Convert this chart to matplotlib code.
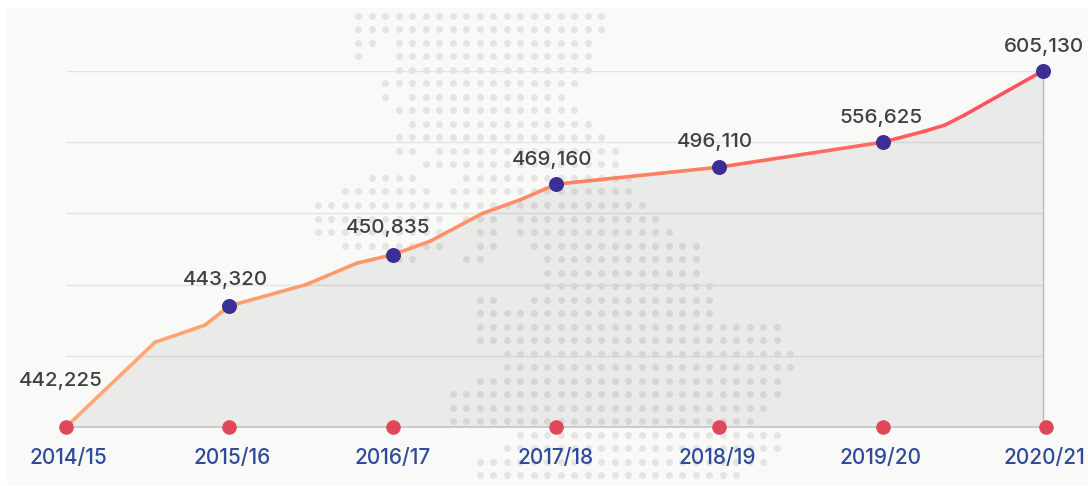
import matplotlib
matplotlib.use("Agg")
import matplotlib.pyplot as plt
import numpy as np
from matplotlib.collections import LineCollection
from matplotlib.colors import LinearSegmentedColormap
from matplotlib.patches import Rectangle
from matplotlib.transforms import ScaledTranslation

plt.rcParams['font.family'] = ['Inter', 'DejaVu Sans']

# Data ---------------------------------------------------------------
years = ["2014/15", "2015/16", "2016/17", "2017/18", "2018/19", "2019/20", "2020/21"]
value_labels = ["442,225", "443,320", "450,835", "469,160", "496,110", "556,625", "605,130"]
# drawn height of each annual point (gridline units, the chart has no numeric axis)
point_x = [0, 1, 2, 3, 4, 5, 5.98]
point_h = [0, 1.70, 2.42, 3.41, 3.65, 4.00, 5.00]
# path of the drawn line between years
line_x = [0, 0.545, 0.85, 1, 1.47, 1.78, 2, 2.23, 2.55, 2.78, 3, 4, 5, 5.25, 5.38, 5.5, 5.98]
line_h = [0, 1.19, 1.43, 1.70, 2.00, 2.30, 2.42, 2.61, 3.00, 3.19, 3.41, 3.65, 4.00, 4.15, 4.24, 4.38, 5.00]
grid_levels = [1, 2, 3, 4, 5]

# Dotted map backdrop: (row, [(first col, last col), ...])
map_rows = [
    (0, [(0, 18)]), (1, [(0, 18)]), (2, [(0, 1), (3, 17)]), (3, [(0, 0), (3, 17)]),
    (4, [(3, 17)]), (5, [(2, 16)]), (6, [(2, 2), (4, 15)]), (7, [(3, 16)]),
    (8, [(4, 17)]), (9, [(3, 18)]), (10, [(3, 4), (6, 19)]), (11, [(5, 19)]),
    (12, [(1, 4), (8, 20)]), (13, [(-1, 5), (7, 20)]), (14, [(-3, 21)]),
    (15, [(-3, 6), (8, 10), (12, 22)]), (16, [(-3, 6), (9, 10), (12, 23)]),
    (17, [(-1, 6), (9, 10), (13, 25)]), (18, [(3, 4), (8, 9), (14, 25)]),
    (19, [(14, 25)]), (20, [(14, 26)]), (21, [(9, 10), (13, 26)]), (22, [(9, 26)]),
    (23, [(9, 31)]), (24, [(9, 31)]), (25, [(11, 32)]), (26, [(11, 32)]),
    (27, [(9, 31)]), (28, [(7, 31)]), (29, [(7, 30)]), (30, [(7, 29)]),
    (31, [(12, 31)]), (32, [(11, 31)]), (33, [(9, 30)]), (34, [(9, 28)]),
]

# Figure -------------------------------------------------------------
W, H = 1088, 486
fig = plt.figure(figsize=(W / 100, H / 100), dpi=100, facecolor="white")

bg = fig.add_axes([0, 0, 1, 1], zorder=0)
bg.set_xlim(0, W)
bg.set_ylim(H, 0)
bg.axis("off")
bg.add_patch(Rectangle((7, 8), W - 7, 477, facecolor="#f9f9f7", edgecolor="none"))
cols, rows = [], []
for r, spans in map_rows:
    for a, b in spans:
        for c in range(a, b + 1):
            cols.append(c)
            rows.append(r)
bg.scatter(358.3 + 13.5 * np.array(cols), 16 + 13.5 * np.array(rows),
           s=25, color="#e4e4e1", linewidths=0)

ax = fig.add_axes([66 / W, (H - 427) / H, 980 / W, 356 / H], zorder=1)
ax.patch.set_alpha(0)
ax.set_xlim(0, 6)
ax.set_ylim(0, 5)
for s in ax.spines.values():
    s.set_visible(False)
ax.set_yticks([])

for g in grid_levels:
    ax.plot([0, 5.98], [g, g], color="#e4e4e2", lw=1, zorder=1, solid_capstyle="butt")
ax.fill_between(line_x, 0, line_h, color="black", alpha=0.06, lw=0, zorder=2)
ax.plot([5.98, 5.98], [0, 5], color="#b9b9b9", lw=1, zorder=3)
ax.plot([0, 6], [0, 0], color="#c4c4c4", lw=1.2, zorder=3, clip_on=False)

cmap = LinearSegmentedColormap.from_list("g", ["#ffab72", "#ff8a64", "#ff4c5e"])
lx, lh = np.array(line_x), np.array(line_h)
segs = np.stack([np.column_stack([lx[:-1], lh[:-1]]), np.column_stack([lx[1:], lh[1:]])], axis=1)
ax.add_collection(LineCollection(segs, colors=cmap((lx[:-1] + lx[1:]) / 12), linewidths=2.6,
                                 capstyle="round", zorder=4))

ax.plot(range(len(years)), [0] * len(years), "o", ms=10.5, color="#e0485a", mew=0,
        zorder=5, clip_on=False)
ax.plot(point_x[1:], point_h[1:], "o", ms=10.8, color="#3b2f96", mew=0, zorder=6, clip_on=False)

offsets = [(-4, 33), (-3, 18.5), (-3, 19.5), (-3, 17.5), (-3, 18), (-1, 17.5), (1, 17.5)]
for x, h, t, off in zip(point_x, point_h, value_labels, offsets):
    ax.annotate(t, (x, h), xytext=off, textcoords="offset points", ha="center", va="center",
                fontsize=14.8, fontweight="medium", color="#404040", zorder=7,
                annotation_clip=False)

ax.set_xticks(range(len(years)))
ax.set_xticklabels(years, fontsize=15, fontweight="medium", color="#2f4a9b")
ax.tick_params(axis="x", length=0, pad=15)
tick_shift_px = [2, 3, 0, 0, -2, -2, -2]
for lbl, dx in zip(ax.get_xticklabels(), tick_shift_px):
    lbl.set_transform(lbl.get_transform() + ScaledTranslation(dx / 100, 0, fig.dpi_scale_trans))

fig.savefig("out.png", dpi=100, facecolor="white")
